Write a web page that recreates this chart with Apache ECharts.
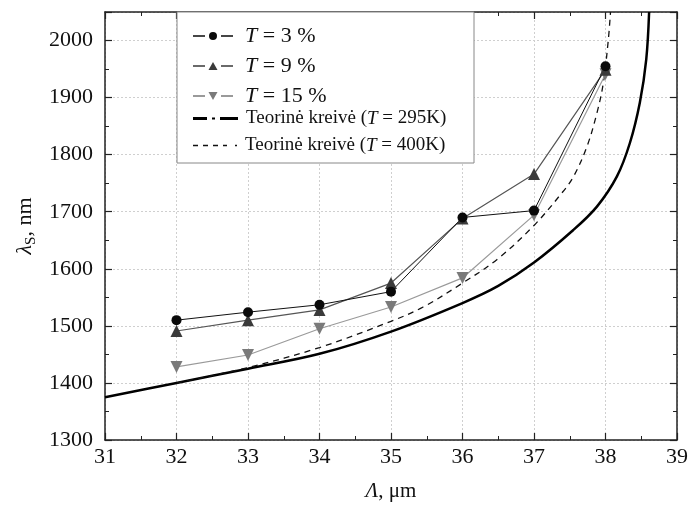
<!DOCTYPE html>
<html>
<head>
<meta charset="utf-8">
<script src="https://cdn.jsdelivr.net/npm/echarts@6/dist/echarts.min.js"></script>
<style>
  html, body { margin: 0; padding: 0; background: #fff; }
  #main { width: 694px; height: 510px; }
</style>
</head>
<body>
<div id="main"></div>
<script>
  // periodai, um
  const periods = [32, 33, 34, 35, 36, 37, 38];
  // eksperimentiniai taskai, nm
  const t3 = [1510, 1524, 1537, 1560, 1690, 1702, 1955];
  const t9 = [1491, 1510, 1528, 1575, 1688, 1766, 1949];
  const t15 = [1428, 1449, 1495, 1533, 1584, 1694, 1941];

  // teorine kreive 295K
  const th295X = [31, 32, 33, 34, 35, 36, 36.5, 37, 37.55, 37.88, 38.16, 38.34, 38.48, 38.57, 38.61];
  const th295Y = [1375, 1400, 1425, 1451, 1490, 1540, 1570, 1611, 1668, 1709, 1762, 1820, 1891, 1967, 2050];
  // teorine kreive 400K
  const th400X = [32, 33, 34, 35, 35.45, 36, 36.48, 37, 37.39, 37.55, 37.74, 37.88, 37.97, 38.04, 38.07];
  const th400Y = [1400, 1427, 1462, 1508, 1533, 1575, 1616, 1676, 1733, 1761, 1814, 1873, 1926, 2002, 2050];

  const xTicks = [31, 39, 1];
  const yTicks = [1300, 2050, 100];

  const serif = "'Liberation Serif', 'Times New Roman', 'DejaVu Serif', serif";
  const pairs = function (xs, ys) {
    return xs.map(function (x, i) { return [x, ys[i]]; });
  };

  const names = {
    "T = 3 %": "{i|T}{n| = 3 %}",
    "T = 9 %": "{i|T}{n| = 9 %}",
    "T = 15 %": "{i|T}{n| = 15 %}",
    "295K": "{s0|Teorinė kreivė (}{si|T}{s| = 295K)}",
    "400K": "{s0|Teorinė kreivė (}{si|T}{s| = 400K)}"
  };

  const richText = {
    i: { fontFamily: serif, fontStyle: "italic", fontSize: 22, color: "#111", padding: [0, 0, 0, 7] },
    n: { fontFamily: serif, fontSize: 22, color: "#111" },
    s0: { fontFamily: serif, fontSize: 19, color: "#111", padding: [0, 0, 0, 3] },
    s: { fontFamily: serif, fontSize: 19, color: "#111" },
    si: { fontFamily: serif, fontStyle: "italic", fontSize: 19, color: "#111" }
  };

  // legendos ikonos
  const iconCircle = "path://M0,3.3H12V4.7H0Z M28,3.3H40V4.7H28Z M16,4A4,4 0 1,0 24,4A4,4 0 1,0 16,4Z";
  const iconUp = "path://M0,4.3H12V5.7H0Z M28,4.3H40V5.7H28Z M15.5,9L20,1L24.5,9Z";
  const iconDown = "path://M0,4.3H12V5.7H0Z M28,4.3H40V5.7H28Z M15.5,1L24.5,1L20,9Z";
  const iconDashDot = "path://M0,0H14V3H0Z M19,0.5H22V2.5H19Z M27,0H45V3H27Z";
  const iconDash = "path://M0,0H5V1.5H0Z M10,0H15V1.5H10Z M20,0H25V1.5H20Z M30,0H34V1.5H30Z M42,0H44V1.5H42Z";

  function axisX(pos) {
    return {
      type: "value",
      position: pos,
      min: xTicks[0],
      max: xTicks[1],
      interval: xTicks[2],
      axisLine: { show: true, lineStyle: { color: "#222", width: 1.5 } },
      axisTick: { show: true, inside: true, length: 7, lineStyle: { color: "#222", width: 1.2 } },
      minorTick: { show: true, splitNumber: 2, length: 4, lineStyle: { color: "#222", width: 1 } },
      axisLabel: {
        show: pos === "bottom",
        margin: 6,
        fontFamily: serif,
        fontSize: 22,
        color: "#111"
      },
      splitLine: {
        show: pos === "bottom",
        lineStyle: { color: "#cfcfcf", type: [2, 2], width: 1 }
      },
      name: pos === "bottom" ? "{i|Λ}{n|, μm}" : "",
      nameLocation: "middle",
      nameGap: 41,
      nameTextStyle: {
        rich: {
          i: { fontFamily: serif, fontStyle: "italic", fontSize: 21, color: "#111" },
          n: { fontFamily: serif, fontSize: 21, color: "#111" }
        }
      }
    };
  }

  function axisY(pos) {
    return {
      type: "value",
      position: pos,
      min: yTicks[0],
      max: yTicks[1],
      interval: yTicks[2],
      axisLine: { show: true, lineStyle: { color: "#222", width: 1.5 } },
      axisTick: { show: true, inside: true, length: 7, lineStyle: { color: "#222", width: 1.2 } },
      minorTick: { show: true, splitNumber: 2, length: 4, lineStyle: { color: "#222", width: 1 } },
      axisLabel: {
        show: pos === "left",
        showMaxLabel: false,
        margin: 12,
        fontFamily: serif,
        fontSize: 22,
        color: "#111",
        formatter: function (v) { return String(v); }
      },
      splitLine: {
        show: pos === "left",
        lineStyle: { color: "#cfcfcf", type: [2, 2], width: 1 }
      },
      name: pos === "left" ? "{i|λ}{sub|S}{n|, nm}" : "",
      nameLocation: "middle",
      nameRotate: 90,
      nameGap: 58,
      nameTextStyle: {
        rich: {
          i: { fontFamily: serif, fontStyle: "italic", fontSize: 22, color: "#111" },
          n: { fontFamily: serif, fontSize: 22, color: "#111" },
          sub: { fontFamily: serif, fontSize: 15, color: "#111", verticalAlign: "bottom", padding: [10, 0, 0, 0] }
        }
      }
    };
  }

  function legendBox(top, gap, w, h, items) {
    return {
      left: 193,
      top: top,
      orient: "vertical",
      padding: 0,
      itemGap: gap,
      itemWidth: w,
      itemHeight: h,
      z: 10,
      data: items,
      formatter: function (name) { return names[name]; },
      textStyle: { rich: richText }
    };
  }

  const myChart = echarts.init(document.getElementById("main"));
  const option = {
    animation: false,
    backgroundColor: "#fff",
    grid: { left: 105, right: 17, top: 12, bottom: 70 },
    xAxis: [axisX("bottom"), axisX("top")],
    yAxis: [axisY("left"), axisY("right")],
    graphic: [{
      type: "rect",
      shape: { x: 177, y: 12, width: 297, height: 151 },
      style: { fill: "#fff", stroke: "#888", lineWidth: 1 },
      z: 5
    }],
    legend: [
      legendBox(25, 8, 40, 8, [
        { name: "T = 3 %", icon: iconCircle },
        { name: "T = 9 %", icon: iconUp },
        { name: "T = 15 %", icon: iconDown }
      ]),
      legendBox(109, 0, 45, 3, [{ name: "295K", icon: iconDashDot }]),
      legendBox(136, 0, 44, 1.5, [{ name: "400K", icon: iconDash }])
    ],
    series: [{
      name: "295K",
      type: "line",
      data: pairs(th295X, th295Y),
      smooth: 0.35,
      showSymbol: false,
      symbol: "none",
      lineStyle: { color: "#000", width: 2.5 },
      itemStyle: { color: "#000" }
    }, {
      name: "400K",
      type: "line",
      data: pairs(th400X, th400Y),
      smooth: 0.35,
      showSymbol: false,
      symbol: "none",
      lineStyle: { color: "#111", width: 1.3, type: [6, 5] },
      itemStyle: { color: "#111" }
    }, {
      name: "T = 15 %",
      type: "line",
      data: pairs(periods, t15),
      symbol: "triangle",
      symbolRotate: 180,
      symbolSize: 12,
      lineStyle: { color: "#9a9a9a", width: 1.2 },
      itemStyle: { color: "#7a7a7a" }
    }, {
      name: "T = 9 %",
      type: "line",
      data: pairs(periods, t9),
      symbol: "triangle",
      symbolSize: 12,
      lineStyle: { color: "#555", width: 1.2 },
      itemStyle: { color: "#3a3a3a" }
    }, {
      name: "T = 3 %",
      type: "line",
      data: pairs(periods, t3),
      symbol: "circle",
      symbolSize: 10,
      lineStyle: { color: "#111", width: 1 },
      itemStyle: { color: "#0a0a0a" }
    }]
  };
  myChart.setOption(option);
</script>
</body>
</html>
